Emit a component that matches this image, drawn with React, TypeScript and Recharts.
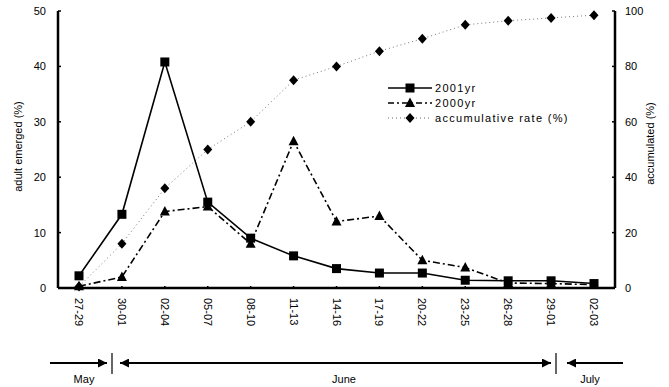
import { LineChart, Line, XAxis, YAxis } from 'recharts';

const periods = ['27-29', '30-01', '02-04', '05-07', '08-10', '11-13', '14-16', '17-19', '20-22', '23-25', '26-28', '29-01', '02-03'];
const adult2001 = [2.2, 13.3, 40.8, 15.5, 9.0, 5.8, 3.5, 2.7, 2.7, 1.4, 1.3, 1.3, 0.8];
const adult2000 = [0.3, 2.0, 13.8, 14.7, 8.0, 26.5, 12.0, 13.0, 5.0, 3.7, 0.9, 0.8, 0.6];
const accumRate = [0.5, 16, 36, 50, 60, 75, 80, 85.5, 90, 95, 96.5, 97.5, 98.5];
const leftTicks = [0, 10, 20, 30, 40, 50];
const rightTicks = [0, 20, 40, 60, 80, 100];

const FONT = '"Liberation Sans", Arial, sans-serif';

const data = periods.map((p, i) => ({
  period: p,
  y2001: adult2001[i],
  y2000: adult2000[i],
  accum: accumRate[i],
}));

const Square = ({ cx, cy }: any) => <rect x={cx - 4.5} y={cy - 4.5} width={9} height={9} fill="#000" />;
const Triangle = ({ cx, cy }: any) => (
  <polygon points={`${cx},${cy - 5.5} ${cx + 5},${cy + 4} ${cx - 5},${cy + 4}`} fill="#000" />
);
const Diamond = ({ cx, cy }: any) => (
  <polygon points={`${cx},${cy - 5} ${cx + 4.5},${cy} ${cx},${cy + 5} ${cx - 4.5},${cy}`} fill="#000" />
);

function LeftTick({ x, y, payload }: any) {
  return (
    <g>
      <line x1={x + 10} x2={x + 13} y1={y} y2={y} stroke="#000" strokeWidth={1.5} />
      <text x={x - 2} y={y + 4} textAnchor="end" fontSize={11} fontFamily={FONT} fill="#000">
        {payload.value}
      </text>
    </g>
  );
}

function RightTick({ x, y, payload }: any) {
  return (
    <g>
      <line x1={x - 10} x2={x - 13} y1={y} y2={y} stroke="#000" strokeWidth={1.5} />
      <text x={x} y={y + 4} textAnchor="start" fontSize={11} fontFamily={FONT} fill="#000">
        {payload.value}
      </text>
    </g>
  );
}

function BottomTick({ x, y, payload }: any) {
  return (
    <g>
      <line x1={x} x2={x} y1={y - 9} y2={y - 12} stroke="#000" strokeWidth={1.5} />
      <text
        x={x}
        y={y}
        transform={`rotate(90, ${x}, ${y})`}
        textAnchor="start"
        dy={4}
        fontSize={11}
        fontFamily={FONT}
        fill="#000"
      >
        {payload.value}
      </text>
    </g>
  );
}

const legendRows = [
  { label: '2001yr', dash: undefined, color: '#000', width: 1.5, Mark: Square },
  { label: '2000yr', dash: '6 3 2 3', color: '#000', width: 1.5, Mark: Triangle },
  { label: 'accumulative rate (%)', dash: '1 3', color: '#666', width: 1, Mark: Diamond },
];

function LegendBox() {
  return (
    <svg width={230} height={50} style={{ position: 'absolute', left: 386, top: 80 }}>
      {legendRows.map((r, i) => {
        const y = 8 + i * 15;
        return (
          <g key={r.label}>
            <line x1={2} x2={46} y1={y} y2={y} stroke={r.color} strokeWidth={r.width} strokeDasharray={r.dash} />
            <r.Mark cx={24} cy={y} />
            <text x={49} y={y + 4} fontSize={11} fontFamily={FONT} letterSpacing={1.3} fill="#000">
              {r.label}
            </text>
          </g>
        );
      })}
    </svg>
  );
}

export default function App() {
  return (
    <div style={{ position: 'absolute', left: 0, top: 0, width: 669, height: 387, background: '#fff' }}>
      <LineChart width={669} height={387} data={data} margin={{ top: 11, right: 0, bottom: 49, left: 0 }}>
        <XAxis
          dataKey="period"
          interval={0}
          height={50}
          padding={{ left: 21, right: 21 }}
          tickSize={0}
          tickMargin={10}
          tickLine={false}
          tick={<BottomTick />}
          axisLine={{ stroke: '#000', strokeWidth: 2.5 }}
        />
        <XAxis
          xAxisId="top"
          dataKey="period"
          orientation="top"
          height={0}
          tick={false}
          tickLine={false}
          axisLine={{ stroke: '#000', strokeWidth: 2.5 }}
        />
        <YAxis
          yAxisId="left"
          domain={[0, 50]}
          ticks={leftTicks}
          width={58}
          tickSize={0}
          tickMargin={10}
          tickLine={false}
          tick={<LeftTick />}
          axisLine={{ stroke: '#000', strokeWidth: 2.5 }}
          label={{
            value: 'adult emerged (%)',
            angle: -90,
            position: 'insideLeft',
            offset: 18,
            dy: -3,
            style: { fontSize: 11, fontFamily: FONT, fill: '#000', textAnchor: 'middle' },
          }}
        />
        <YAxis
          yAxisId="right"
          orientation="right"
          domain={[0, 100]}
          ticks={rightTicks}
          width={54}
          tickSize={0}
          tickMargin={10}
          tickLine={false}
          tick={<RightTick />}
          axisLine={{ stroke: '#000', strokeWidth: 2.5 }}
          label={{
            value: 'accumulated (%)',
            angle: -90,
            position: 'insideRight',
            offset: 19,
            dy: -6,
            style: { fontSize: 11, fontFamily: FONT, fill: '#000', textAnchor: 'middle' },
          }}
        />
        <Line
          yAxisId="right"
          dataKey="accum"
          stroke="#777"
          strokeWidth={1}
          strokeDasharray="1 3"
          dot={(p: any) => <Diamond key={`d-${p.index}`} {...p} />}
          isAnimationActive={false}
        />
        <Line
          yAxisId="left"
          dataKey="y2000"
          stroke="#000"
          strokeWidth={1.6}
          strokeDasharray="7 3 2 3"
          dot={(p: any) => <Triangle key={`t-${p.index}`} {...p} />}
          isAnimationActive={false}
        />
        <Line
          yAxisId="left"
          dataKey="y2001"
          stroke="#000"
          strokeWidth={1.6}
          dot={(p: any) => <Square key={`s-${p.index}`} {...p} />}
          isAnimationActive={false}
        />
      </LineChart>
      <LegendBox />
      <svg width={669} height={387} style={{ position: 'absolute', left: 0, top: 0, pointerEvents: 'none' }}>
        <defs>
          <marker id="ah" viewBox="0 0 10 10" refX={10} refY={5} markerWidth={9} markerHeight={9} orient="auto-start-reverse" markerUnits="userSpaceOnUse">
            <path d="M0,0 L10,5 L0,10 z" fill="#000" />
          </marker>
        </defs>
        <line x1={50} x2={107} y1={363} y2={363} stroke="#000" strokeWidth={2} markerEnd="url(#ah)" />
        <line x1={112} x2={112} y1={353} y2={374} stroke="#000" strokeWidth={1.2} />
        <line x1={120} x2={551} y1={363} y2={363} stroke="#000" strokeWidth={2} markerStart="url(#ah)" markerEnd="url(#ah)" />
        <line x1={556} x2={556} y1={353} y2={374} stroke="#000" strokeWidth={1.2} />
        <line x1={623} x2={567} y1={363} y2={363} stroke="#000" strokeWidth={2} markerEnd="url(#ah)" />
        <text x={84} y={383} textAnchor="middle" fontSize={11} fontFamily={FONT}>May</text>
        <text x={344} y={383} textAnchor="middle" fontSize={11} fontFamily={FONT}>June</text>
        <text x={590} y={383} textAnchor="middle" fontSize={11} fontFamily={FONT}>July</text>
      </svg>
    </div>
  );
}
